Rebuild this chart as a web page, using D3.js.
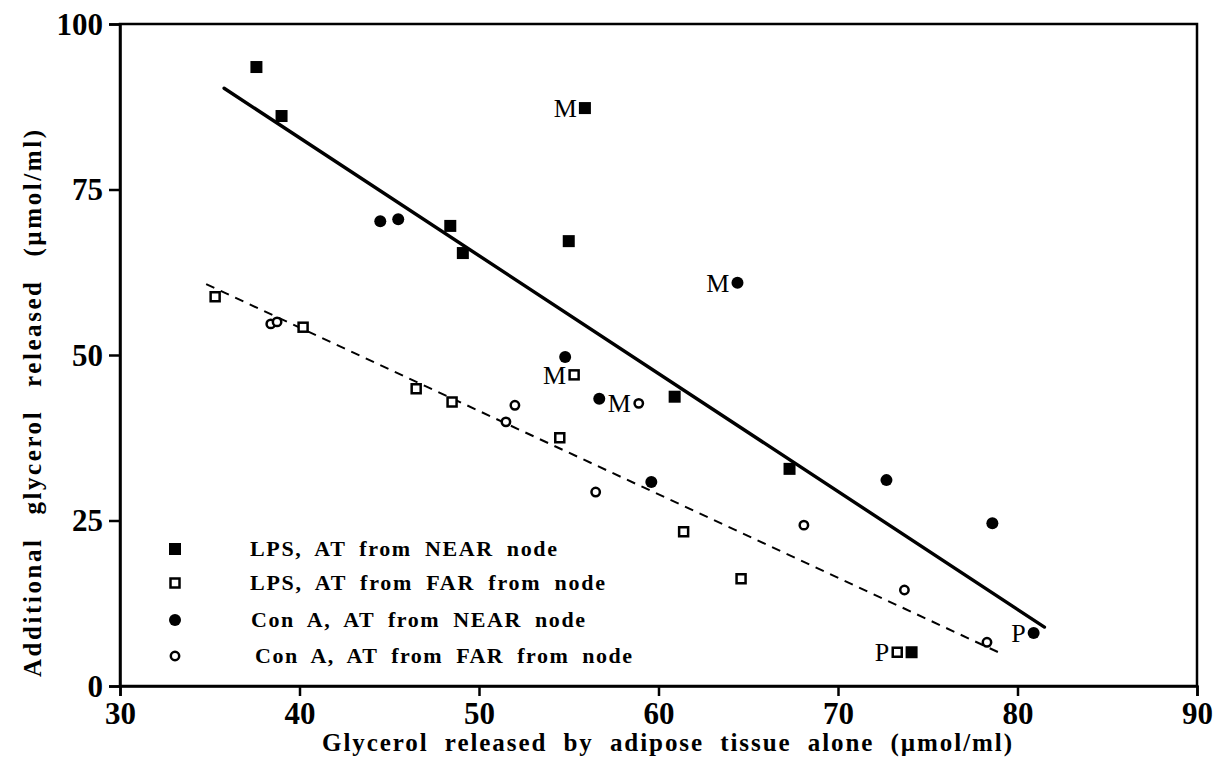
<!DOCTYPE html>
<html><head><meta charset="utf-8">
<script src="https://cdn.jsdelivr.net/npm/d3@7"></script>
<style>body{margin:0;background:#fff;} text{font-family:"Liberation Serif","Times New Roman",serif;}</style>
</head><body>
<svg id="c" width="1215" height="759"></svg>
<script>
// Data (x = glycerol by adipose tissue alone, y = additional glycerol released)
const lpsNear = [[37.6,93.5],[39.0,86.1],[55.9,87.3,"M"],[48.4,69.5],[49.1,65.4],[55.0,67.2],[60.9,43.7],[67.3,32.8],[74.1,5.1]];
const lpsFar  = [[35.3,58.8],[40.2,54.2],[46.5,44.9],[48.5,42.9],[55.3,47.0,"M"],[54.5,37.5],[61.4,23.3],[64.6,16.2],[73.3,5.1,"P"]];
const conNear = [[44.5,70.2],[45.5,70.5],[54.8,49.7],[56.7,43.4],[64.4,60.9,"M"],[59.6,30.8],[72.7,31.1],[78.6,24.6],[80.9,8.0,"P"]];
const conFar  = [[38.4,54.7],[38.75,55.0],[52.0,42.4],[51.5,39.9],[58.9,42.7,"M"],[56.5,29.3],[68.1,24.3],[73.7,14.5],[78.3,6.6]];
const nearLine = [[35.8,90.3],[81.5,8.9]];
const farLine  = [[34.8,60.7],[79.25,4.7]];
const xTicks = [30,40,50,60,70,80,90];
const yTicks = [0,25,50,75,100];
const legendLabels = ["LPS, AT from NEAR node","LPS, AT from FAR from node","Con A, AT from NEAR node","Con A, AT from FAR from node"];

const svg = d3.select("#c");
const L=120, R=1197, T=24, B=686;
const x = d3.scaleLinear().domain([30,90]).range([L,R]);
const y = d3.scaleLinear().domain([0,100]).range([B,T]);

// frame
svg.append("rect").attr("x",L).attr("y",T).attr("width",R-L).attr("height",B-T)
  .attr("fill","none").attr("stroke","#000").attr("stroke-width",2.5);

const xa = svg.append("g").attr("transform",`translate(0,${B})`)
  .call(d3.axisBottom(x).tickValues(xTicks).tickSize(10).tickPadding(5).tickFormat(d3.format("d")));
const ya = svg.append("g").attr("transform",`translate(${L},0)`)
  .call(d3.axisLeft(y).tickValues(yTicks).tickSize(11).tickPadding(6).tickFormat(d3.format("d")));
[xa,ya].forEach(a=>{
  a.attr("font-size",32).attr("font-family",null);
  a.select(".domain").attr("stroke","#000").attr("stroke-width",2.5);
  a.selectAll(".tick line").attr("stroke","#000").attr("stroke-width",2.5);
  a.selectAll(".tick text").attr("fill","#000").style("font-size","32px").attr("font-weight","bold")
   .attr("textLength",d=>String(d).length*15.5).attr("lengthAdjust","spacingAndGlyphs");
});

// axis titles
svg.append("text").attr("x",322).attr("y",751)
  .style("font-size","25px").attr("font-weight","bold").attr("word-spacing",8)
  .attr("textLength",690).attr("lengthAdjust","spacing")
  .text("Glycerol released by adipose tissue alone (\u00b5mol/ml)");
svg.append("text").attr("transform","translate(41,677) rotate(-90)")
  .style("font-size","25px").attr("font-weight","bold").attr("word-spacing",14)
  .attr("textLength",547).attr("lengthAdjust","spacing")
  .text("Additional glycerol released (\u00b5mol/ml)");

// regression lines
const line = d3.line().x(d=>x(d[0])).y(d=>y(d[1]));
svg.append("path").attr("d",line(nearLine)).attr("fill","none").attr("stroke","#000").attr("stroke-width",3.4).attr("stroke-linecap","round");
svg.append("path").attr("d",line(farLine)).attr("fill","none").attr("stroke","#000").attr("stroke-width",2).attr("stroke-dasharray","9,7");

function drawMarker(g, type, cx, cy){
  if(type==="fs") g.append("rect").attr("x",cx-6).attr("y",cy-6).attr("width",12).attr("height",12).attr("fill","#000");
  if(type==="os") g.append("rect").attr("x",cx-4.5).attr("y",cy-4.5).attr("width",9).attr("height",9).attr("fill","#fff").attr("stroke","#000").attr("stroke-width",2.5);
  if(type==="fc") g.append("circle").attr("cx",cx).attr("cy",cy).attr("r",6).attr("fill","#000");
  if(type==="oc") g.append("circle").attr("cx",cx).attr("cy",cy).attr("r",4.2).attr("fill","#fff").attr("stroke","#000").attr("stroke-width",2.5);
}
const series = [[lpsFar,"os"],[conFar,"oc"],[lpsNear,"fs"],[conNear,"fc"]];
const pts = svg.append("g");
series.forEach(([data,t])=>{
  data.forEach(d=>{
    drawMarker(pts,t,x(d[0]),y(d[1]));
    if(d[2]) pts.append("text").attr("x",x(d[0])-8).attr("y",y(d[1])+9)
      .attr("text-anchor","end").style("font-size","26px").text(d[2]);
  });
});

// legend
const types=["fs","os","fc","oc"];
const ly=[549,583,620,656];
const lx=[250,250,251,255];
const lw=[307,355,334,377];
legendLabels.forEach((lab,i)=>{
  drawMarker(svg,types[i],175,ly[i]);
  svg.append("text").attr("x",lx[i]).attr("y",ly[i]+7).style("font-size","22px").attr("font-weight","bold")
    .attr("word-spacing",6).attr("textLength",lw[i]).attr("lengthAdjust","spacing").text(lab);
});
</script>
</body></html>
